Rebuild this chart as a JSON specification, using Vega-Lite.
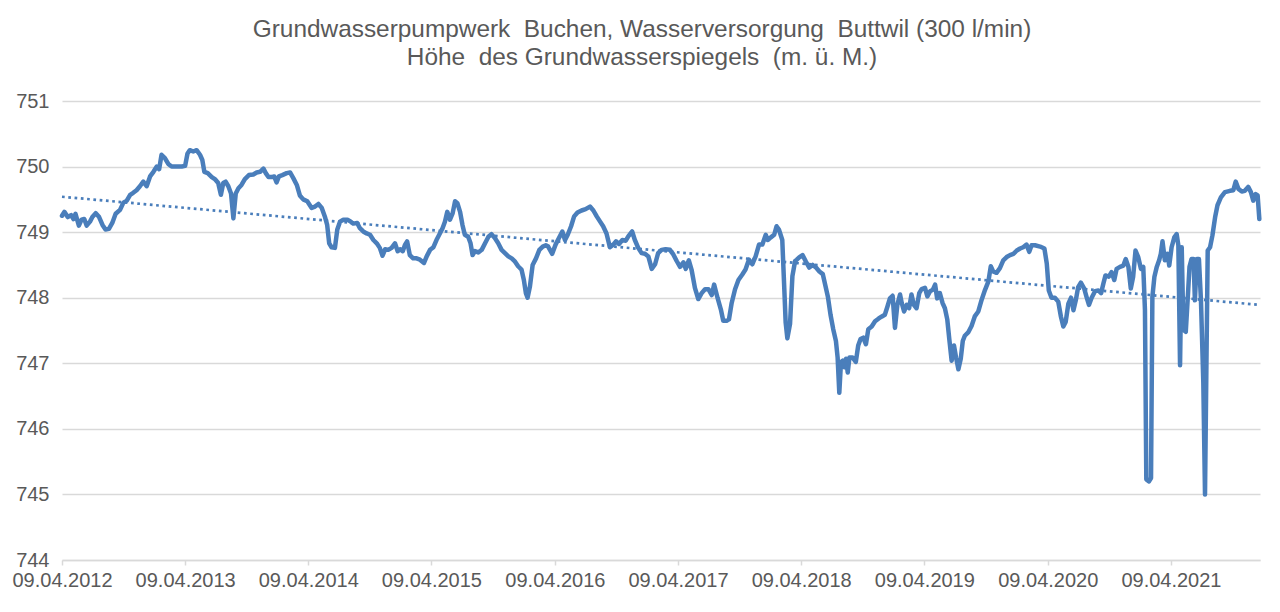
{
  "$schema": "https://vega.github.io/schema/vega-lite/v6.json",
  "width": 1198,
  "height": 459,
  "autosize": {"type": "none"},
  "padding": {"left": 62, "top": 101, "right": 20, "bottom": 52},
  "background": "white",
  "config": {
    "view": {"stroke": null},
    "font": "Liberation Sans, Arial, sans-serif",
    "axis": {"labelFont": "Liberation Sans, Arial, sans-serif", "labelColor": "#595959", "labelFontSize": 20, "title": null}
  },
  "title": {
    "text": ["Grundwasserpumpwerk\u00a0 Buchen, Wasserversorgung\u00a0 Buttwil (300 l/min)", "Höhe\u00a0 des Grundwasserspiegels\u00a0 (m. ü. M.)"],
    "font": "Liberation Sans, Arial, sans-serif",
    "fontSize": 24.4,
    "fontWeight": "normal",
    "color": "#595959",
    "anchor": "middle",
    "baseline": "bottom",
    "lineHeight": 28,
    "offset": 31,
    "dx": -19,
    "dy": 34
  },
  "datasets": {
    "trend": [
      {"date": "2012-04-09", "level": 749.54},
      {"date": "2021-12-29", "level": 747.89}
    ],
    "pegel": [
      {"date":"2012-04-09","level":749.25},{"date":"2012-04-16","level":749.31},{"date":"2012-04-26","level":749.23},{"date":"2012-05-06","level":749.26},{"date":"2012-05-13","level":749.20},{"date":"2012-05-19","level":749.28},{"date":"2012-05-29","level":749.10},{"date":"2012-06-06","level":749.19},{"date":"2012-06-14","level":749.20},{"date":"2012-06-21","level":749.10},{"date":"2012-07-01","level":749.16},{"date":"2012-07-08","level":749.23},{"date":"2012-07-18","level":749.29},{"date":"2012-07-28","level":749.23},{"date":"2012-08-07","level":749.11},{"date":"2012-08-16","level":749.04},{"date":"2012-08-26","level":749.05},{"date":"2012-09-05","level":749.14},{"date":"2012-09-15","level":749.28},{"date":"2012-09-28","level":749.34},{"date":"2012-10-08","level":749.45},{"date":"2012-10-18","level":749.48},{"date":"2012-10-28","level":749.57},{"date":"2012-11-06","level":749.60},{"date":"2012-11-16","level":749.64},{"date":"2012-11-26","level":749.70},{"date":"2012-12-06","level":749.77},{"date":"2012-12-16","level":749.70},{"date":"2012-12-26","level":749.85},
      {"date":"2013-01-05","level":749.92},{"date":"2013-01-15","level":750.00},{"date":"2013-01-22","level":749.96},{"date":"2013-01-29","level":750.18},{"date":"2013-02-08","level":750.13},{"date":"2013-02-18","level":750.04},{"date":"2013-02-28","level":750.00},{"date":"2013-03-15","level":750.00},{"date":"2013-03-30","level":750.00},{"date":"2013-04-09","level":750.01},{"date":"2013-04-16","level":750.20},{"date":"2013-04-23","level":750.25},{"date":"2013-05-03","level":750.23},{"date":"2013-05-13","level":750.25},{"date":"2013-05-23","level":750.18},{"date":"2013-05-30","level":750.10},{"date":"2013-06-05","level":749.92},{"date":"2013-06-15","level":749.90},{"date":"2013-06-27","level":749.84},{"date":"2013-07-06","level":749.81},{"date":"2013-07-16","level":749.75},{"date":"2013-07-24","level":749.57},{"date":"2013-07-31","level":749.75},{"date":"2013-08-07","level":749.77},{"date":"2013-08-15","level":749.70},{"date":"2013-08-23","level":749.59},{"date":"2013-08-30","level":749.21},{"date":"2013-09-06","level":749.59},{"date":"2013-09-14","level":749.67},{"date":"2013-09-23","level":749.72},{"date":"2013-10-03","level":749.81},{"date":"2013-10-15","level":749.87},{"date":"2013-10-28","level":749.88},{"date":"2013-11-07","level":749.91},{"date":"2013-11-17","level":749.92},{"date":"2013-11-27","level":749.97},{"date":"2013-12-04","level":749.90},{"date":"2013-12-12","level":749.84},{"date":"2013-12-21","level":749.84},{"date":"2013-12-29","level":749.85},
      {"date":"2014-01-05","level":749.76},{"date":"2014-01-12","level":749.85},{"date":"2014-01-22","level":749.87},{"date":"2014-02-04","level":749.90},{"date":"2014-02-14","level":749.91},{"date":"2014-02-24","level":749.82},{"date":"2014-03-06","level":749.72},{"date":"2014-03-15","level":749.56},{"date":"2014-03-25","level":749.50},{"date":"2014-04-06","level":749.47},{"date":"2014-04-19","level":749.37},{"date":"2014-04-29","level":749.39},{"date":"2014-05-09","level":749.43},{"date":"2014-05-19","level":749.37},{"date":"2014-05-28","level":749.24},{"date":"2014-06-04","level":749.11},{"date":"2014-06-10","level":748.83},{"date":"2014-06-17","level":748.77},{"date":"2014-06-27","level":748.76},{"date":"2014-07-04","level":749.04},{"date":"2014-07-12","level":749.16},{"date":"2014-07-22","level":749.19},{"date":"2014-08-03","level":749.19},{"date":"2014-08-13","level":749.16},{"date":"2014-08-20","level":749.13},{"date":"2014-09-01","level":749.14},{"date":"2014-09-09","level":749.06},{"date":"2014-09-19","level":749.01},{"date":"2014-09-29","level":748.98},{"date":"2014-10-09","level":748.96},{"date":"2014-10-19","level":748.88},{"date":"2014-10-29","level":748.83},{"date":"2014-11-07","level":748.76},{"date":"2014-11-15","level":748.64},{"date":"2014-11-23","level":748.74},{"date":"2014-12-02","level":748.73},{"date":"2014-12-12","level":748.76},{"date":"2014-12-22","level":748.83},{"date":"2014-12-30","level":748.71},
      {"date":"2015-01-06","level":748.74},{"date":"2015-01-14","level":748.71},{"date":"2015-01-21","level":748.81},{"date":"2015-01-27","level":748.86},{"date":"2015-02-04","level":748.65},{"date":"2015-02-14","level":748.60},{"date":"2015-02-24","level":748.60},{"date":"2015-03-06","level":748.58},{"date":"2015-03-18","level":748.53},{"date":"2015-03-26","level":748.63},{"date":"2015-04-05","level":748.73},{"date":"2015-04-15","level":748.77},{"date":"2015-04-24","level":748.88},{"date":"2015-05-04","level":748.98},{"date":"2015-05-12","level":749.06},{"date":"2015-05-19","level":749.16},{"date":"2015-05-26","level":749.31},{"date":"2015-06-03","level":749.19},{"date":"2015-06-11","level":749.29},{"date":"2015-06-18","level":749.47},{"date":"2015-06-25","level":749.44},{"date":"2015-07-03","level":749.31},{"date":"2015-07-10","level":749.11},{"date":"2015-07-17","level":748.96},{"date":"2015-07-27","level":748.93},{"date":"2015-08-03","level":748.83},{"date":"2015-08-09","level":748.65},{"date":"2015-08-16","level":748.71},{"date":"2015-08-26","level":748.69},{"date":"2015-09-05","level":748.73},{"date":"2015-09-15","level":748.83},{"date":"2015-09-25","level":748.93},{"date":"2015-10-04","level":748.97},{"date":"2015-10-14","level":748.91},{"date":"2015-10-24","level":748.83},{"date":"2015-11-03","level":748.73},{"date":"2015-11-13","level":748.68},{"date":"2015-11-23","level":748.63},{"date":"2015-12-03","level":748.60},{"date":"2015-12-13","level":748.55},{"date":"2015-12-22","level":748.48},
      {"date":"2016-01-01","level":748.43},{"date":"2016-01-08","level":748.27},{"date":"2016-01-14","level":748.07},{"date":"2016-01-19","level":748.00},{"date":"2016-01-26","level":748.17},{"date":"2016-02-03","level":748.50},{"date":"2016-02-13","level":748.60},{"date":"2016-02-23","level":748.73},{"date":"2016-03-04","level":748.78},{"date":"2016-03-13","level":748.80},{"date":"2016-03-20","level":748.78},{"date":"2016-04-01","level":748.67},{"date":"2016-04-11","level":748.81},{"date":"2016-04-21","level":748.91},{"date":"2016-05-01","level":749.01},{"date":"2016-05-09","level":748.88},{"date":"2016-05-17","level":748.96},{"date":"2016-05-27","level":749.09},{"date":"2016-06-05","level":749.24},{"date":"2016-06-15","level":749.30},{"date":"2016-06-27","level":749.33},{"date":"2016-07-09","level":749.35},{"date":"2016-07-22","level":749.39},{"date":"2016-08-01","level":749.33},{"date":"2016-08-11","level":749.24},{"date":"2016-08-21","level":749.16},{"date":"2016-08-30","level":749.09},{"date":"2016-09-09","level":748.98},{"date":"2016-09-19","level":748.77},{"date":"2016-09-29","level":748.81},{"date":"2016-10-07","level":748.86},{"date":"2016-10-16","level":748.82},{"date":"2016-10-26","level":748.88},{"date":"2016-11-05","level":748.87},{"date":"2016-11-13","level":748.94},{"date":"2016-11-24","level":749.01},{"date":"2016-12-02","level":748.88},{"date":"2016-12-12","level":748.76},{"date":"2016-12-22","level":748.68},
      {"date":"2017-01-01","level":748.67},{"date":"2017-01-11","level":748.63},{"date":"2017-01-21","level":748.44},{"date":"2017-01-31","level":748.51},{"date":"2017-02-09","level":748.68},{"date":"2017-02-19","level":748.73},{"date":"2017-03-03","level":748.74},{"date":"2017-03-16","level":748.73},{"date":"2017-03-26","level":748.66},{"date":"2017-04-05","level":748.56},{"date":"2017-04-15","level":748.47},{"date":"2017-04-25","level":748.54},{"date":"2017-05-02","level":748.44},{"date":"2017-05-11","level":748.57},{"date":"2017-05-19","level":748.43},{"date":"2017-05-29","level":748.15},{"date":"2017-06-08","level":747.98},{"date":"2017-06-18","level":748.07},{"date":"2017-06-28","level":748.13},{"date":"2017-07-08","level":748.13},{"date":"2017-07-18","level":748.04},{"date":"2017-07-25","level":748.20},{"date":"2017-08-04","level":748.00},{"date":"2017-08-14","level":747.82},{"date":"2017-08-21","level":747.65},{"date":"2017-08-31","level":747.65},{"date":"2017-09-07","level":747.67},{"date":"2017-09-15","level":747.92},{"date":"2017-09-25","level":748.13},{"date":"2017-10-05","level":748.27},{"date":"2017-10-16","level":748.35},{"date":"2017-10-26","level":748.43},{"date":"2017-11-05","level":748.58},{"date":"2017-11-15","level":748.51},{"date":"2017-11-25","level":748.63},{"date":"2017-12-05","level":748.81},{"date":"2017-12-15","level":748.81},{"date":"2017-12-25","level":748.96},{"date":"2017-12-31","level":748.88},
      {"date":"2018-01-09","level":748.92},{"date":"2018-01-19","level":748.96},{"date":"2018-01-26","level":749.09},{"date":"2018-02-02","level":749.04},{"date":"2018-02-12","level":748.88},{"date":"2018-02-18","level":748.13},{"date":"2018-02-22","level":747.62},{"date":"2018-02-27","level":747.38},{"date":"2018-03-07","level":747.60},{"date":"2018-03-14","level":748.33},{"date":"2018-03-22","level":748.56},{"date":"2018-03-27","level":748.58},{"date":"2018-04-04","level":748.62},{"date":"2018-04-13","level":748.65},{"date":"2018-04-23","level":748.55},{"date":"2018-05-03","level":748.46},{"date":"2018-05-13","level":748.50},{"date":"2018-05-23","level":748.46},{"date":"2018-06-02","level":748.40},{"date":"2018-06-12","level":748.36},{"date":"2018-06-19","level":748.20},{"date":"2018-06-27","level":748.02},{"date":"2018-07-05","level":747.74},{"date":"2018-07-13","level":747.52},{"date":"2018-07-21","level":747.34},{"date":"2018-07-26","level":747.09},{"date":"2018-07-31","level":746.55},{"date":"2018-08-05","level":747.02},{"date":"2018-08-10","level":747.04},{"date":"2018-08-15","level":746.94},{"date":"2018-08-20","level":747.07},{"date":"2018-08-25","level":746.86},{"date":"2018-08-30","level":747.09},{"date":"2018-09-08","level":747.09},{"date":"2018-09-18","level":747.02},{"date":"2018-09-25","level":747.27},{"date":"2018-10-02","level":747.37},{"date":"2018-10-10","level":747.39},{"date":"2018-10-18","level":747.29},{"date":"2018-10-25","level":747.52},{"date":"2018-11-04","level":747.56},{"date":"2018-11-14","level":747.64},{"date":"2018-11-24","level":747.68},{"date":"2018-12-03","level":747.71},{"date":"2018-12-13","level":747.74},{"date":"2018-12-21","level":747.87},{"date":"2018-12-28","level":747.99},
      {"date":"2019-01-05","level":748.03},{"date":"2019-01-12","level":747.54},{"date":"2019-01-19","level":747.89},{"date":"2019-01-27","level":748.05},{"date":"2019-02-01","level":747.92},{"date":"2019-02-08","level":747.79},{"date":"2019-02-16","level":747.89},{"date":"2019-02-23","level":747.84},{"date":"2019-03-02","level":748.05},{"date":"2019-03-09","level":747.89},{"date":"2019-03-17","level":747.84},{"date":"2019-03-25","level":748.07},{"date":"2019-04-01","level":748.13},{"date":"2019-04-11","level":748.15},{"date":"2019-04-18","level":748.02},{"date":"2019-04-26","level":748.10},{"date":"2019-05-04","level":748.12},{"date":"2019-05-11","level":748.20},{"date":"2019-05-17","level":747.99},{"date":"2019-05-25","level":748.07},{"date":"2019-06-02","level":747.92},{"date":"2019-06-09","level":747.84},{"date":"2019-06-16","level":747.67},{"date":"2019-06-22","level":747.37},{"date":"2019-06-29","level":747.04},{"date":"2019-07-06","level":747.27},{"date":"2019-07-12","level":747.09},{"date":"2019-07-19","level":746.91},{"date":"2019-07-26","level":747.07},{"date":"2019-08-01","level":747.34},{"date":"2019-08-07","level":747.42},{"date":"2019-08-17","level":747.47},{"date":"2019-08-27","level":747.57},{"date":"2019-09-06","level":747.72},{"date":"2019-09-16","level":747.79},{"date":"2019-09-26","level":747.97},{"date":"2019-10-06","level":748.12},{"date":"2019-10-16","level":748.25},{"date":"2019-10-23","level":748.48},{"date":"2019-10-30","level":748.40},{"date":"2019-11-09","level":748.38},{"date":"2019-11-19","level":748.45},{"date":"2019-11-29","level":748.57},{"date":"2019-12-09","level":748.62},{"date":"2019-12-19","level":748.65},{"date":"2019-12-29","level":748.67},
      {"date":"2020-01-08","level":748.72},{"date":"2020-01-18","level":748.75},{"date":"2020-01-27","level":748.77},{"date":"2020-02-06","level":748.81},{"date":"2020-02-14","level":748.70},{"date":"2020-02-21","level":748.80},{"date":"2020-03-02","level":748.80},{"date":"2020-03-17","level":748.78},{"date":"2020-03-30","level":748.75},{"date":"2020-04-06","level":748.52},{"date":"2020-04-12","level":748.11},{"date":"2020-04-20","level":748.00},{"date":"2020-04-30","level":748.00},{"date":"2020-05-10","level":747.94},{"date":"2020-05-18","level":747.71},{"date":"2020-05-25","level":747.56},{"date":"2020-06-01","level":747.63},{"date":"2020-06-09","level":747.91},{"date":"2020-06-17","level":748.00},{"date":"2020-06-24","level":747.81},{"date":"2020-07-01","level":747.96},{"date":"2020-07-08","level":748.16},{"date":"2020-07-16","level":748.23},{"date":"2020-07-26","level":748.14},{"date":"2020-08-02","level":748.01},{"date":"2020-08-09","level":747.89},{"date":"2020-08-17","level":748.00},{"date":"2020-08-27","level":748.10},{"date":"2020-09-06","level":748.11},{"date":"2020-09-14","level":748.07},{"date":"2020-09-21","level":748.22},{"date":"2020-09-27","level":748.34},{"date":"2020-10-07","level":748.32},{"date":"2020-10-15","level":748.39},{"date":"2020-10-23","level":748.27},{"date":"2020-10-30","level":748.44},{"date":"2020-11-09","level":748.47},{"date":"2020-11-19","level":748.49},{"date":"2020-11-26","level":748.59},{"date":"2020-12-04","level":748.47},{"date":"2020-12-11","level":748.14},{"date":"2020-12-18","level":748.32},{"date":"2020-12-25","level":748.72},
      {"date":"2021-01-02","level":748.62},{"date":"2021-01-10","level":748.44},{"date":"2021-01-17","level":748.47},{"date":"2021-01-22","level":747.81},{"date":"2021-01-26","level":745.23},{"date":"2021-02-03","level":745.20},{"date":"2021-02-09","level":745.25},{"date":"2021-02-13","level":748.01},{"date":"2021-02-19","level":748.32},{"date":"2021-02-26","level":748.47},{"date":"2021-03-05","level":748.57},{"date":"2021-03-10","level":748.67},{"date":"2021-03-15","level":748.86},{"date":"2021-03-22","level":748.57},{"date":"2021-03-30","level":748.67},{"date":"2021-04-04","level":748.49},{"date":"2021-04-11","level":748.77},{"date":"2021-04-19","level":748.92},{"date":"2021-04-26","level":748.97},{"date":"2021-05-01","level":748.80},{"date":"2021-05-06","level":746.97},{"date":"2021-05-11","level":748.77},{"date":"2021-05-16","level":747.51},{"date":"2021-05-23","level":747.48},{"date":"2021-05-29","level":748.01},{"date":"2021-06-03","level":748.47},{"date":"2021-06-09","level":748.59},{"date":"2021-06-15","level":748.59},{"date":"2021-06-19","level":747.96},{"date":"2021-06-25","level":748.59},{"date":"2021-07-01","level":748.59},{"date":"2021-07-07","level":747.96},{"date":"2021-07-14","level":746.70},{"date":"2021-07-19","level":745.00},{"date":"2021-07-23","level":746.90},{"date":"2021-07-27","level":748.72},{"date":"2021-08-03","level":748.77},{"date":"2021-08-10","level":748.95},{"date":"2021-08-18","level":749.23},{"date":"2021-08-25","level":749.41},{"date":"2021-09-04","level":749.53},{"date":"2021-09-16","level":749.61},{"date":"2021-10-01","level":749.63},{"date":"2021-10-11","level":749.64},{"date":"2021-10-18","level":749.77},{"date":"2021-10-26","level":749.66},{"date":"2021-11-05","level":749.62},{"date":"2021-11-14","level":749.63},{"date":"2021-11-24","level":749.69},{"date":"2021-12-02","level":749.61},{"date":"2021-12-09","level":749.48},{"date":"2021-12-16","level":749.58},{"date":"2021-12-22","level":749.56},{"date":"2021-12-27","level":749.20}
    ]
  },
  "encoding": {
    "x": {
      "field": "date",
      "type": "temporal",
      "scale": {
        "type": "utc",
        "domain": [{"year": 2012, "month": 4, "date": 9, "utc": true}, {"year": 2021, "month": 12, "date": 29, "utc": true}]
      },
      "axis": {
        "values": [
          {"year": 2012, "month": 4, "date": 9, "utc": true},
          {"year": 2013, "month": 4, "date": 9, "utc": true},
          {"year": 2014, "month": 4, "date": 9, "utc": true},
          {"year": 2015, "month": 4, "date": 9, "utc": true},
          {"year": 2016, "month": 4, "date": 9, "utc": true},
          {"year": 2017, "month": 4, "date": 9, "utc": true},
          {"year": 2018, "month": 4, "date": 9, "utc": true},
          {"year": 2019, "month": 4, "date": 9, "utc": true},
          {"year": 2020, "month": 4, "date": 9, "utc": true},
          {"year": 2021, "month": 4, "date": 9, "utc": true}
        ],
        "labelExpr": "utcFormat(datum.value, '%d.%m.%Y')",
        "grid": false,
        "domainColor": "#d9d9d9",
        "domainWidth": 1.5,
        "tickColor": "#d9d9d9",
        "tickWidth": 1.5,
        "tickSize": 5,
        "labelPadding": 5,
        "labelAngle": 0,
        "labelFlush": false,
        "labelOverlap": false
      }
    },
    "y": {
      "field": "level",
      "type": "quantitative",
      "scale": {"domain": [744, 751], "nice": false, "zero": false},
      "axis": {
        "values": [744, 745, 746, 747, 748, 749, 750, 751],
        "grid": true,
        "gridColor": "#d9d9d9",
        "gridWidth": 1.5,
        "domain": false,
        "ticks": false,
        "labelPadding": 13,
        "format": "d"
      }
    }
  },
  "layer": [
    {
      "data": {"name": "trend"},
      "mark": {"type": "line", "color": "#4a7ebb", "strokeWidth": 2.7, "strokeDash": [2.7, 3.6], "strokeCap": "butt"}
    },
    {
      "data": {"name": "pegel"},
      "mark": {"type": "line", "color": "#4a7ebb", "strokeWidth": 4.5, "strokeJoin": "round", "strokeCap": "round"}
    }
  ]
}
